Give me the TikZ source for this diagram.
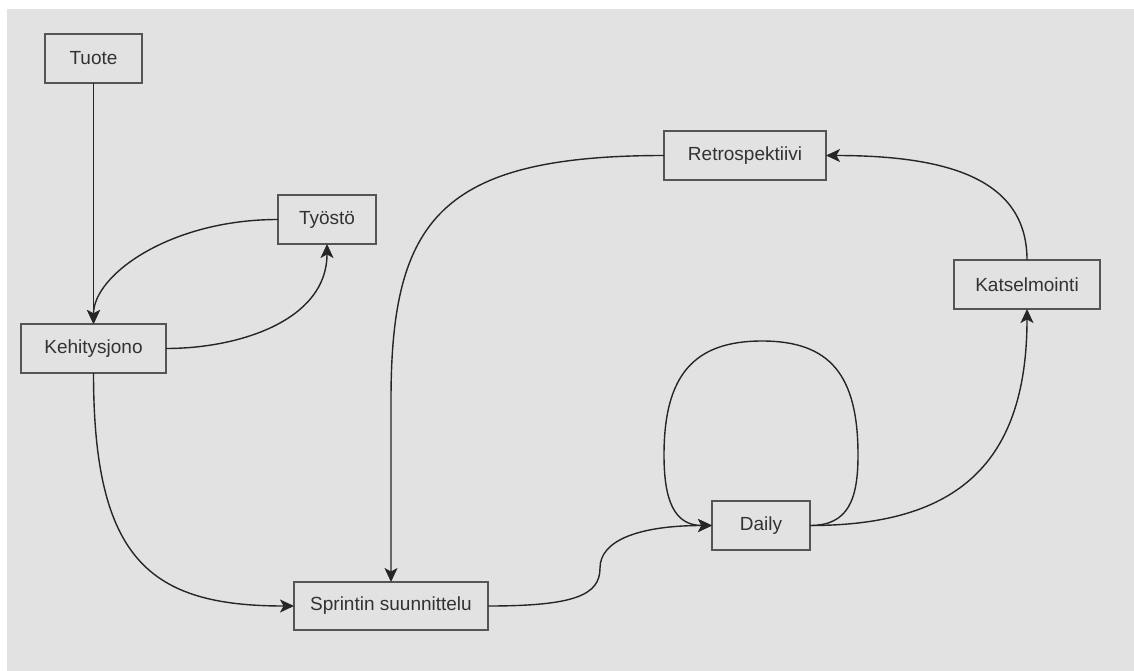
\documentclass[tikz,border=0pt]{standalone}
\usepackage{fontspec}
\setmainfont{Liberation Sans}
\usetikzlibrary{arrows.meta}
\definecolor{bg}{RGB}{226,226,226}
\definecolor{boxline}{RGB}{85,85,85}
\definecolor{txt}{RGB}{50,50,50}
\definecolor{edge}{RGB}{38,38,38}
\begin{document}
\begin{tikzpicture}[x=1pt,y=-1pt,
  box/.style={draw=boxline, line width=1.5pt, minimum height=49pt, inner sep=0pt, outer sep=0pt, text=txt, font=\fontsize{19}{22}\selectfont},
  conn/.style={draw=edge, line width=1.4pt, -{Stealth[length=14pt,width=13pt,inset=3.5pt]}}]
\useasboundingbox (0,0) rectangle (1134,671);
\fill[white] (0,0) rectangle (1134,671);
\fill[bg] (7,9) rectangle (1134,671);

\node[box, minimum width=97pt] (tuote) at (93.5,58.5) {Tuote};
\node[box, minimum width=145pt] (keh) at (93.5,348.5) {Kehitysjono};
\node[box, minimum width=98pt] (tyo) at (327,219.5) {Työstö};
\node[box, minimum width=162pt] (retro) at (745,155.5) {Retrospektiivi};
\node[box, minimum width=98pt] (daily) at (761,525.5) {Daily};
\node[box, minimum width=194pt, minimum height=48pt] (sprint) at (391,606) {Sprintin suunnittelu};
\node[box, minimum width=146pt] (kats) at (1027,284.5) {Katselmointi};

\draw[conn] (tuote.south) -- (keh.north);
\draw[conn] (tyo.west) .. controls (170,219.5) and (93.5,275) .. (keh.north);
\draw[conn] (keh.east) .. controls (240,348.5) and (327,320) .. (tyo.south);
\draw[conn] (keh.south) .. controls (93.5,560) and (150,606) .. (sprint.west);
\draw[conn] (retro.west) .. controls (440,155.5) and (391,220) .. (391,400) -- (sprint.north);
\draw[conn] (sprint.east) .. controls (575,606) and (600,595) .. (600,568) .. controls (600,540) and (640,525.5) .. (daily.west);
\draw[conn] (daily.east) .. controls (848,525.5) and (858,500) .. (858,455) .. controls (858,375) and (830,341) .. (762,341) .. controls (694,341) and (664,375) .. (664,455) .. controls (664,500) and (674,525.5) .. (daily.west);
\draw[conn] (daily.east) .. controls (950,525.5) and (1027,470) .. (kats.south);
\draw[conn] (kats.north) .. controls (1027,180) and (950,155.5) .. (retro.east);
\end{tikzpicture}
\end{document}
